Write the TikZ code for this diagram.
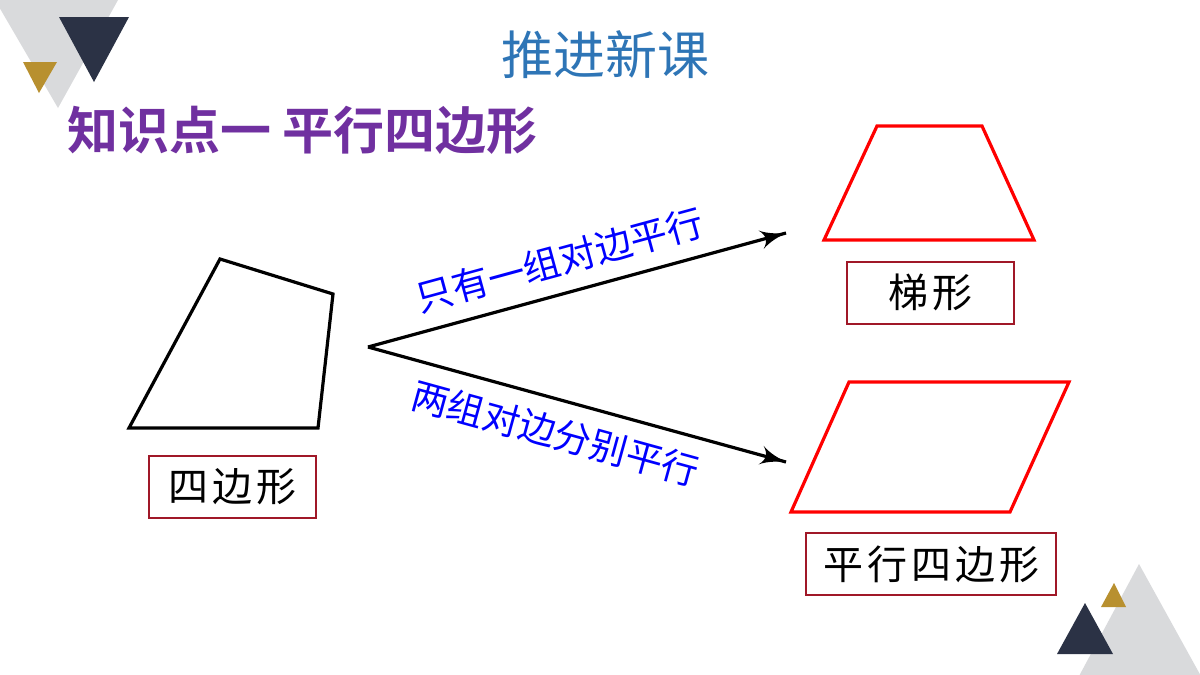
\documentclass[tikz,border=0pt]{standalone}
\usepackage{fontspec}
\usepackage{tikz}
\setmainfont{Noto Sans CJK SC}
\newfontfamily\boldcjk{Noto Sans CJK SC Bold}
\newfontfamily\kai[LetterSpace=10]{Noto Sans CJK SC}
\usetikzlibrary{arrows}
\usetikzlibrary{decorations.markings}
\tikzset{arrowline/.style = {line width = 1.6pt,
                             decoration={markings,
                                         mark=at position 1 with {\arrow[scale=1.7]{latex'}}},
                             postaction={decorate}}}
\tikzset{outline/.style = {line width = 1.6pt, line join = miter}}
\tikzset{namebox/.style = {draw = mred, line width = 1pt, font = \kai\fontsize{20}{24}\selectfont,
                           minimum height = 31pt, inner sep = 0}}
\tikzset{edgelabel/.style = {text = lblue, font = \fontsize{18.5}{20}\selectfont}}
\definecolor{mblue}{RGB}{46, 117, 182}
\definecolor{mpurple}{RGB}{112, 48, 160}
\definecolor{mred}{RGB}{160, 24, 40}
\definecolor{lblue}{RGB}{0, 0, 255}
\definecolor{mgray}{RGB}{217, 218, 220}
\definecolor{mnavy}{RGB}{43, 50, 69}
\definecolor{mgold}{RGB}{184, 144, 47}

\begin{document}
\begin{tikzpicture}[x=0.5pt, y=-0.5pt]
      \useasboundingbox (0, 0) rectangle (1200, 675);
      % corners
      \fill [mgray] (-5, 0) -- (118, 0) -- (58, 108) -- cycle;
      \fill [mnavy] (59, 17) -- (129, 17) -- (94, 82) -- cycle;
      \fill [mgold] (23, 62) -- (57, 62) -- (39, 93) -- cycle;
      \fill [mgray] (1139, 564) -- (1202, 678) -- (1078, 678) -- cycle;
      \fill [mnavy] (1085, 603) -- (1113, 654) -- (1057, 654) -- cycle;
      \fill [mgold] (1114, 583) -- (1126, 607) -- (1101, 607) -- cycle;
      % headings
      \node [text = mblue, font = \fontsize{26}{30}\selectfont] (title) at (605, 55) {推进新课};
      \node [anchor = west, text = mpurple, font = \boldcjk\fontsize{25.5}{30}\selectfont, inner sep = 0]
        (topic) at (67, 130) {知识点一 平行四边形};
      % shapes
      \draw [outline] (220, 259) -- (333, 294) -- (318, 428) -- (129, 428) -- cycle;
      \draw [outline, red] (877, 126) -- (982, 126) -- (1034, 240) -- (824, 240) -- cycle;
      \draw [outline, red] (849, 382) -- (1069, 382) -- (1010, 512) -- (791, 512) -- cycle;
      \node [namebox, minimum width = 83.5pt] (quad) at (232.5, 487) {四边形};
      \node [namebox, minimum width = 83.5pt] (trap) at (930.5, 292.5) {梯形};
      \node [namebox, minimum width = 125pt] (para) at (931, 564) {平行四边形};
      % arrows
      \coordinate (fork) at (368, 347);
      \coordinate (up) at (786, 233);
      \coordinate (down) at (786, 462);
      \draw [arrowline] (fork) -- node [edgelabel, sloped, above = 4pt, pos = 0.48] (one) {只有一组对边平行} (up);
      \draw [arrowline] (fork) -- node [edgelabel, sloped, below = 4pt, pos = 0.47] (two) {两组对边分别平行} (down);
    \end{tikzpicture}
\end{document}
